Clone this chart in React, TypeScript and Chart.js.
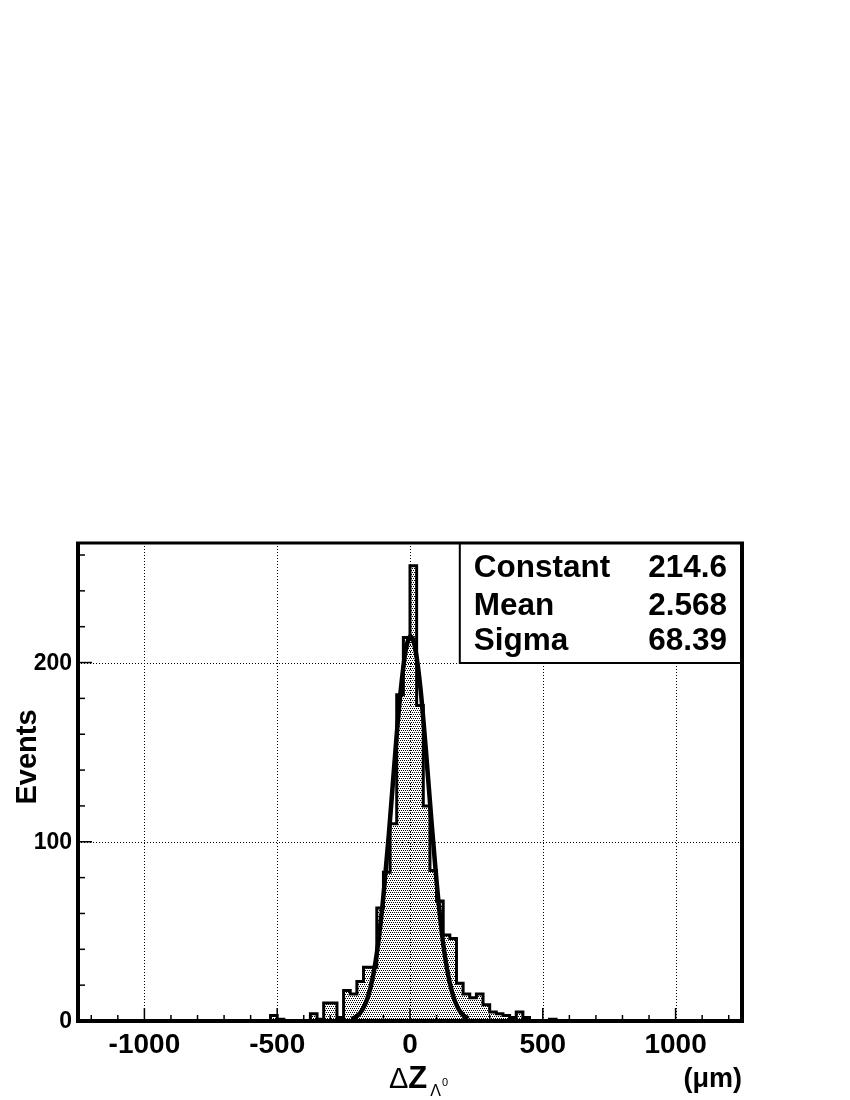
import React, { useEffect, useRef } from "react";
import { Chart, registerables } from "chart.js";

Chart.register(...registerables);

// ---- data ----
const X_MIN = -1250;
const X_MAX = 1250;
const Y_MIN = 0;
const Y_MAX = 266.7;
const BIN_WIDTH = 25;

// low edges of the (non-empty region of the) histogram bins, in µm
const HIST_LOW_EDGES = [
  -525, -500, -475, -450, -425, -400, -375, -350, -325, -300, -275, -250, -225,
  -200, -175, -150, -125, -100, -75, -50, -25, 0, 25, 50, 75, 100, 125, 150,
  175, 200, 225, 250, 275, 300, 325, 350, 375, 400, 425, 450, 475, 500, 525,
];
const HIST_COUNTS = [
  3, 1, 0, 0, 0, 0, 4, 1, 10, 10, 2, 17, 15, 22, 30, 30, 63, 83, 110, 182, 214,
  254, 176, 120, 84, 67, 48, 46, 21, 15, 13, 15, 9, 5, 4, 3, 2, 5, 2, 0, 0, 0,
  1,
];

// gaussian fit curve
const FIT_X = [
  -220, -200, -180, -160, -140, -120, -100, -80, -60, -40, -20, -10, 0, 10, 20,
  40, 60, 80, 100, 120, 140, 160, 180, 200, 220,
];
const FIT_Y = [
  1.1, 2.7, 6.1, 12.7, 24.4, 43.1, 69.7, 103.5, 141.2, 176.8, 203.2, 211.0,
  214.5, 213.3, 207.7, 184.7, 150.8, 113.1, 77.8, 49.1, 28.5, 15.2, 7.4, 3.3,
  1.4,
];

const X_TICKS = [-1000, -500, 0, 500, 1000];
const X_TICK_LABELS = ["-1000", "-500", "0", "500", "1000"];
const X_MINOR_STEP = 100;
const Y_TICKS = [0, 100, 200];
const Y_TICK_LABELS = ["0", "100", "200"];
const Y_MINOR_STEP = 20;

const STAT_NAMES = ["Constant", "Mean", "Sigma"];
const STAT_VALUES = ["214.6", "2.568", "68.39"];

const Y_TITLE = "Events";
const X_UNIT = "(μm)";

const FONT = '"Liberation Sans", Arial, Helvetica, sans-serif';

function makePattern(): CanvasPattern | string {
  const c = document.createElement("canvas");
  c.width = 4;
  c.height = 4;
  const g = c.getContext("2d");
  if (!g) return "#bbb";
  g.fillStyle = "#000";
  g.fillRect(0, 0, 1, 1);
  g.fillRect(2, 0, 1, 1);
  g.fillRect(1, 2, 1, 1);
  g.fillRect(3, 2, 1, 1);
  const p = g.createPattern(c, "repeat");
  return p || "#bbb";
}

const decorPlugin = {
  id: "decor",
  beforeDatasetsDraw(chart: any) {
    const { ctx, chartArea: a, scales } = chart;
    const xs = scales.x;
    const ys = scales.y;
    ctx.save();
    ctx.strokeStyle = "#000";
    ctx.lineWidth = 1;
    ctx.setLineDash([1, 2]);
    for (const v of X_TICKS) {
      const px = Math.round(xs.getPixelForValue(v)) + 0.5;
      ctx.beginPath();
      ctx.moveTo(px, a.top);
      ctx.lineTo(px, a.bottom);
      ctx.stroke();
    }
    for (const v of Y_TICKS) {
      if (v === Y_MIN) continue;
      const py = Math.round(ys.getPixelForValue(v)) + 0.5;
      ctx.beginPath();
      ctx.moveTo(a.left, py);
      ctx.lineTo(a.right, py);
      ctx.stroke();
    }
    ctx.restore();
  },
  afterDatasetsDraw(chart: any) {
    const { ctx, chartArea: a, scales } = chart;
    const xs = scales.x;
    const ys = scales.y;
    ctx.save();
    ctx.setLineDash([]);
    ctx.strokeStyle = "#000";
    ctx.fillStyle = "#000";

    // x ticks
    ctx.lineWidth = 1.5;
    for (let v = -1200; v <= 1200; v += X_MINOR_STEP) {
      const px = xs.getPixelForValue(v);
      const major = X_TICKS.includes(v);
      ctx.beginPath();
      ctx.moveTo(px, a.bottom);
      ctx.lineTo(px, a.bottom - (major ? 13 : 6));
      ctx.stroke();
    }
    // y ticks
    for (let v = Y_MIN + Y_MINOR_STEP; v < Y_MAX; v += Y_MINOR_STEP) {
      const py = ys.getPixelForValue(v);
      const major = Y_TICKS.includes(v);
      ctx.beginPath();
      ctx.moveTo(a.left, py);
      ctx.lineTo(a.left + (major ? 14 : 7), py);
      ctx.stroke();
    }

    // stats box
    const bx = a.left + (a.right - a.left) * 0.575;
    const by = a.top;
    const bw = a.right - bx;
    const bh = 120;
    ctx.fillStyle = "#fff";
    ctx.fillRect(bx, by, bw, bh);
    ctx.lineWidth = 2;
    ctx.strokeRect(bx, by, bw, bh);
    ctx.fillStyle = "#000";
    ctx.font = `bold 31.5px ${FONT}`;
    ctx.textBaseline = "alphabetic";
    const rowBase = [34, 72, 107];
    STAT_NAMES.forEach((n, i) => {
      ctx.textAlign = "left";
      ctx.fillText(n, bx + 14, by + rowBase[i]);
      ctx.textAlign = "right";
      ctx.fillText(STAT_VALUES[i], a.right - 15, by + rowBase[i]);
    });

    // frame
    ctx.lineWidth = 4;
    ctx.beginPath();
    ctx.moveTo(a.left, a.top);
    ctx.lineTo(a.left, a.bottom);
    ctx.lineTo(a.right, a.bottom);
    ctx.lineTo(a.right, a.top);
    ctx.stroke();
    ctx.lineWidth = 3;
    ctx.beginPath();
    ctx.moveTo(a.left - 2, a.top);
    ctx.lineTo(a.right + 2, a.top);
    ctx.stroke();

    // x tick labels
    ctx.font = `bold 28px ${FONT}`;
    ctx.textAlign = "center";
    ctx.textBaseline = "alphabetic";
    X_TICKS.forEach((v, i) => {
      ctx.fillText(X_TICK_LABELS[i], xs.getPixelForValue(v), a.bottom + 32);
    });
    // y tick labels
    ctx.font = `bold 23px ${FONT}`;
    ctx.textAlign = "right";
    ctx.textBaseline = "middle";
    Y_TICKS.forEach((v, i) => {
      ctx.fillText(Y_TICK_LABELS[i], a.left - 6, ys.getPixelForValue(v) + 1);
    });

    // y title
    ctx.save();
    ctx.translate(36, (a.top + a.bottom) / 2 - 25);
    ctx.rotate(-Math.PI / 2);
    ctx.font = `bold 29px ${FONT}`;
    ctx.textAlign = "center";
    ctx.textBaseline = "alphabetic";
    ctx.fillText(Y_TITLE, 0, 0);
    ctx.restore();

    // x title: ΔZ_{Λ^0}
    const tx = xs.getPixelForValue(0) - 21;
    const tb = a.bottom + 67;
    ctx.textAlign = "left";
    ctx.textBaseline = "alphabetic";
    ctx.font = `29px ${FONT}`;
    ctx.fillText("Δ", tx, tb);
    let w = ctx.measureText("Δ").width;
    ctx.font = `bold 31px ${FONT}`;
    ctx.fillText("Z", tx + w, tb);
    w += ctx.measureText("Z").width + 3;
    ctx.font = `16px ${FONT}`;
    ctx.fillText("Λ", tx + w, tb + 8);
    const w2 = ctx.measureText("Λ").width + 1;
    ctx.font = `11px ${FONT}`;
    ctx.fillText("0", tx + w + w2, tb - 2);

    // unit
    ctx.font = `bold 27px ${FONT}`;
    ctx.textAlign = "right";
    ctx.fillText(X_UNIT, a.right, tb - 1);

    ctx.restore();
  },
};

export default function App() {
  const ref = useRef<HTMLCanvasElement>(null);

  useEffect(() => {
    if (!ref.current) return;
    const histPoints: { x: number; y: number }[] = [{ x: X_MIN, y: 0 }];
    HIST_LOW_EDGES.forEach((e, i) => histPoints.push({ x: e, y: HIST_COUNTS[i] }));
    const lastEdge = HIST_LOW_EDGES[HIST_LOW_EDGES.length - 1] + BIN_WIDTH;
    histPoints.push({ x: lastEdge, y: 0 });
    histPoints.push({ x: X_MAX, y: 0 });

    const fitPoints = FIT_X.map((x, i) => ({ x, y: FIT_Y[i] }));

    const chart = new Chart(ref.current, {
      type: "line",
      data: {
        datasets: [
          {
            label: "hist",
            data: histPoints,
            stepped: true,
            borderColor: "#000",
            borderWidth: 3,
            backgroundColor: makePattern() as any,
            fill: "origin",
            pointRadius: 0,
            order: 2,
          },
          {
            label: "fit",
            data: fitPoints,
            borderColor: "#000",
            borderWidth: 4.5,
            fill: false,
            pointRadius: 0,
            cubicInterpolationMode: "monotone",
            order: 1,
          },
        ],
      },
      options: {
        animation: false,
        responsive: false,
        devicePixelRatio: 1,
        layout: { padding: { top: 543, right: 108, left: 0, bottom: 0 } },
        plugins: {
          legend: { display: false },
          tooltip: { enabled: false },
          title: { display: false },
        },
        scales: {
          x: {
            type: "linear",
            min: X_MIN,
            max: X_MAX,
            grid: { display: false, drawTicks: false },
            border: { display: false },
            ticks: { display: false },
            afterFit: (s: any) => {
              s.height = 79;
            },
          },
          y: {
            type: "linear",
            min: Y_MIN,
            max: Y_MAX,
            grid: { display: false, drawTicks: false },
            border: { display: false },
            ticks: { display: false },
            afterFit: (s: any) => {
              s.width = 78;
            },
          },
        },
      },
      plugins: [decorPlugin],
    });
    return () => chart.destroy();
  }, []);

  return (
    <div style={{ position: "absolute", left: 0, top: 0, width: 850, height: 1100, background: "#fff" }}>
      <canvas ref={ref} width={850} height={1100} style={{ display: "block" }} />
    </div>
  );
}
